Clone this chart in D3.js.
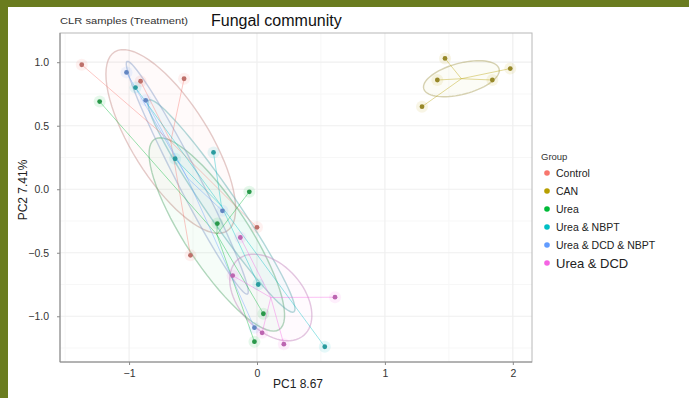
<!DOCTYPE html>
<html>
<head>
<meta charset="utf-8">
<script src="https://cdn.jsdelivr.net/npm/d3@7"></script>
<style>
  body { margin: 0; background: #fff; }
  svg { display: block; font-family: "Liberation Sans", Arial, sans-serif; }
</style>
</head>
<body>
<svg id="chart" width="689" height="398"></svg>
<script>
// groups and sample coordinates (PC1, PC2)
var groups = ["Control", "CAN", "Urea", "Urea & NBPT", "Urea & DCD & NBPT", "Urea & DCD"];
var colors = ["#F8766D", "#B79F00", "#00BA38", "#00BFC4", "#619CFF", "#F564E3"];

var controlPts = [[-1.37, 0.98], [-0.57, 0.87], [0.00, -0.30], [-0.52, -0.52], [-0.91, 0.85]];
var canPts = [[1.47, 1.03], [1.41, 0.86], [1.84, 0.86], [1.98, 0.95], [1.29, 0.65]];
var ureaPts = [[-1.23, 0.69], [-0.06, -0.02], [-0.31, -0.27], [0.05, -0.98], [-0.02, -1.20]];
var nbptPts = [[-0.95, 0.80], [-0.64, 0.24], [-0.34, 0.29], [0.01, -0.75], [0.53, -1.24]];
var dcdNbptPts = [[-1.02, 0.92], [-0.87, 0.70], [-0.27, -0.17], [-0.02, -1.09]];
var dcdPts = [[0.61, -0.85], [0.21, -1.22], [-0.19, -0.68], [0.04, -1.13], [-0.13, -0.38]];

var groupPts = [controlPts, canPts, ureaPts, nbptPts, dcdNbptPts, dcdPts];

var xTicks = [-1, 0, 1, 2];
var yTicks = [1.0, 0.5, 0.0, -0.5, -1.0];

var svg = d3.select("#chart");
var margin = {top: 33, right: 157, bottom: 36, left: 60};
var width = 689 - margin.left - margin.right,
    height = 398 - margin.top - margin.bottom;

// olive frame on top and left
svg.append("rect").attr("x", 0).attr("y", 0).attr("width", 689).attr("height", 7).attr("fill", "#6a7c1f");
svg.append("rect").attr("x", 0).attr("y", 0).attr("width", 8).attr("height", 398).attr("fill", "#6a7c1f");

var x = d3.scaleLinear().domain([-1.54, 2.15]).range([0, width]);
var y = d3.scaleLinear().domain([-1.36, 1.23]).range([height, 0]);

var g = svg.append("g").attr("transform", "translate(" + margin.left + "," + margin.top + ")");

// grid
var minorX = [-1.5, -0.5, 0.5, 1.5], minorY = [-1.25, -0.75, -0.25, 0.25, 0.75];
g.selectAll(".gminx").data(minorX).enter().append("line")
  .attr("x1", d => x(d)).attr("x2", d => x(d)).attr("y1", 0).attr("y2", height)
  .attr("stroke", "#f7f7f7").attr("stroke-width", 1);
g.selectAll(".gminy").data(minorY).enter().append("line")
  .attr("y1", d => y(d)).attr("y2", d => y(d)).attr("x1", 0).attr("x2", width)
  .attr("stroke", "#f7f7f7").attr("stroke-width", 1);
g.selectAll(".gx").data(xTicks).enter().append("line")
  .attr("x1", d => x(d)).attr("x2", d => x(d)).attr("y1", 0).attr("y2", height)
  .attr("stroke", "#efefef").attr("stroke-width", 1.2);
g.selectAll(".gy").data(yTicks).enter().append("line")
  .attr("y1", d => y(d)).attr("y2", d => y(d)).attr("x1", 0).attr("x2", width)
  .attr("stroke", "#efefef").attr("stroke-width", 1.2);

// 1-sd covariance ellipse for a group
function ellipsePath(pts) {
  var n = pts.length;
  var mx = d3.mean(pts, p => p[0]), my = d3.mean(pts, p => p[1]);
  var sxx = 0, syy = 0, sxy = 0;
  pts.forEach(p => {
    sxx += (p[0] - mx) * (p[0] - mx);
    syy += (p[1] - my) * (p[1] - my);
    sxy += (p[0] - mx) * (p[1] - my);
  });
  sxx /= (n - 1); syy /= (n - 1); sxy /= (n - 1);
  var tr = sxx + syy, det = sxx * syy - sxy * sxy;
  var l1 = tr / 2 + Math.sqrt(tr * tr / 4 - det), l2 = tr / 2 - Math.sqrt(tr * tr / 4 - det);
  var ang = Math.atan2(l1 - sxx, sxy);
  if (Math.abs(sxy) < 1e-9) ang = sxx >= syy ? 0 : Math.PI / 2;
  var a = Math.sqrt(Math.max(l1, 0)), b = Math.sqrt(Math.max(l2, 0));
  var out = [];
  for (var i = 0; i <= 72; i++) {
    var t = i / 72 * 2 * Math.PI;
    var ex = a * Math.cos(t), ey = b * Math.sin(t);
    out.push([mx + ex * Math.cos(ang) - ey * Math.sin(ang), my + ex * Math.sin(ang) + ey * Math.cos(ang)]);
  }
  return out;
}

var line = d3.line().x(d => x(d[0])).y(d => y(d[1])).curve(d3.curveLinearClosed);

groupPts.forEach(function(pts, i) {
  g.append("path").attr("d", line(ellipsePath(pts)))
    .attr("fill", colors[i]).attr("fill-opacity", 0.035)
    .attr("stroke", d3.interpolateRgb(colors[i], "#aaa")(0.6)).attr("stroke-opacity", 0.5)
    .attr("stroke-width", 1.4);
});

// spiders to centroid
groupPts.forEach(function(pts, i) {
  var cx = d3.mean(pts, p => p[0]), cy = d3.mean(pts, p => p[1]);
  g.selectAll(null).data(pts).enter().append("line")
    .attr("x1", x(cx)).attr("y1", y(cy))
    .attr("x2", d => x(d[0])).attr("y2", d => y(d[1]))
    .attr("stroke", colors[i]).attr("stroke-opacity", 0.4).attr("stroke-width", 1);
});

// points: halo + core
groupPts.forEach(function(pts, i) {
  g.selectAll(null).data(pts).enter().append("circle")
    .attr("cx", d => x(d[0])).attr("cy", d => y(d[1])).attr("r", 6)
    .attr("fill", colors[i]).attr("fill-opacity", 0.1);
  g.selectAll(null).data(pts).enter().append("circle")
    .attr("cx", d => x(d[0])).attr("cy", d => y(d[1])).attr("r", 2.4)
    .attr("fill", d3.interpolateRgb(colors[i], "#666")(0.4));
});

// panel border
g.append("rect").attr("width", width).attr("height", height)
  .attr("fill", "none").attr("stroke", "#b8b8b8").attr("stroke-width", 1);
g.append("line").attr("x1", 0).attr("x2", 0).attr("y1", 0).attr("y2", height).attr("stroke", "#8a8a8a");
g.append("line").attr("x1", 0).attr("x2", width).attr("y1", height).attr("y2", height).attr("stroke", "#8a8a8a");

// axes
var xAxis = g.append("g").attr("transform", "translate(0," + height + ")")
  .call(d3.axisBottom(x).tickValues(xTicks).tickSize(3).tickFormat(d3.format("d")));
var yAxis = g.append("g")
  .call(d3.axisLeft(y).tickValues(yTicks).tickSize(3).tickPadding(8).tickFormat(d3.format(".1f")));
[xAxis, yAxis].forEach(function(a) {
  a.select(".domain").remove();
  a.selectAll("line").attr("stroke", "#8a8a8a");
  a.selectAll("text").attr("fill", "#333").attr("font-size", 10.5);
});
xAxis.selectAll("text").attr("dy", "0.9em");

svg.append("text").attr("x", 298).attr("y", 388)
  .attr("text-anchor", "middle").attr("font-size", 12).attr("fill", "#222").text("PC1 8.67");
svg.append("text").attr("transform", "translate(27," + 190 + ") rotate(-90)")
  .attr("text-anchor", "middle").attr("font-size", 12).attr("fill", "#222").text("PC2 7.41%");

// titles
svg.append("text").attr("x", 60).attr("y", 24).attr("font-size", 9).attr("fill", "#333")
  .attr("textLength", 128).attr("lengthAdjust", "spacingAndGlyphs")
  .text("CLR samples (Treatment)");
svg.append("text").attr("x", 211).attr("y", 26).attr("font-size", 16).attr("fill", "#111")
  .text("Fungal community");

// legend
var leg = svg.append("g").attr("transform", "translate(531,150)");
leg.append("text").attr("x", 10).attr("y", 10).attr("font-size", 9.5).attr("fill", "#333").text("Group");
var legY = [23, 41, 59, 77, 95, 113];
groups.forEach(function(name, i) {
  var last = i === groups.length - 1;
  leg.append("circle").attr("cx", 16).attr("cy", legY[i]).attr("r", 2.8)
    .attr("fill", colors[i]);
  leg.append("text").attr("x", 25).attr("y", legY[i]).attr("dy", "0.35em")
    .attr("font-size", last ? 13 : 10.5).attr("fill", "#222").text(name);
});
</script>
</body>
</html>
